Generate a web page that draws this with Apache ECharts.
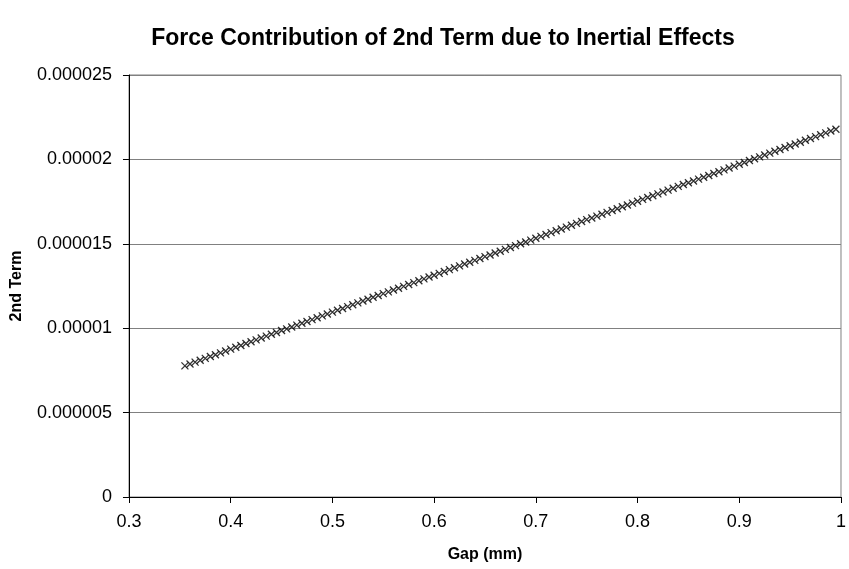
<!DOCTYPE html>
<html>
<head>
<meta charset="utf-8">
<script src="https://cdn.jsdelivr.net/npm/echarts@6/dist/echarts.min.js"></script>
<style>
  html, body { margin: 0; padding: 0; background: #fff; }
  #chart { width: 849px; height: 569px; }
</style>
</head>
<body>
<div id="chart"></div>
<script>
// Gap between surfaces (mm)
const gapMm = [
  0.355, 0.360, 0.365, 0.370, 0.375, 0.380, 0.385, 0.390, 0.395, 0.400,
  0.405, 0.410, 0.415, 0.420, 0.425, 0.430, 0.435, 0.440, 0.445, 0.450,
  0.455, 0.460, 0.465, 0.470, 0.475, 0.480, 0.485, 0.490, 0.495, 0.500,
  0.505, 0.510, 0.515, 0.520, 0.525, 0.530, 0.535, 0.540, 0.545, 0.550,
  0.555, 0.560, 0.565, 0.570, 0.575, 0.580, 0.585, 0.590, 0.595, 0.600,
  0.605, 0.610, 0.615, 0.620, 0.625, 0.630, 0.635, 0.640, 0.645, 0.650,
  0.655, 0.660, 0.665, 0.670, 0.675, 0.680, 0.685, 0.690, 0.695, 0.700,
  0.705, 0.710, 0.715, 0.720, 0.725, 0.730, 0.735, 0.740, 0.745, 0.750,
  0.755, 0.760, 0.765, 0.770, 0.775, 0.780, 0.785, 0.790, 0.795, 0.800,
  0.805, 0.810, 0.815, 0.820, 0.825, 0.830, 0.835, 0.840, 0.845, 0.850,
  0.855, 0.860, 0.865, 0.870, 0.875, 0.880, 0.885, 0.890, 0.895, 0.900,
  0.905, 0.910, 0.915, 0.920, 0.925, 0.930, 0.935, 0.940, 0.945, 0.950,
  0.955, 0.960, 0.965, 0.970, 0.975, 0.980, 0.985, 0.990, 0.995
];

// Inertial (2nd term) force contribution at each gap
const secondTerm = [
  7.77e-6, 7.88e-6, 7.99e-6, 8.10e-6, 8.21e-6, 8.32e-6, 8.43e-6, 8.54e-6, 8.65e-6, 8.76e-6,
  8.87e-6, 8.98e-6, 9.09e-6, 9.20e-6, 9.31e-6, 9.42e-6, 9.53e-6, 9.64e-6, 9.75e-6, 9.86e-6,
  9.96e-6, 10.07e-6, 10.18e-6, 10.29e-6, 10.40e-6, 10.51e-6, 10.62e-6, 10.73e-6, 10.84e-6, 10.95e-6,
  11.06e-6, 11.17e-6, 11.28e-6, 11.39e-6, 11.50e-6, 11.61e-6, 11.72e-6, 11.83e-6, 11.94e-6, 12.05e-6,
  12.15e-6, 12.26e-6, 12.37e-6, 12.48e-6, 12.59e-6, 12.70e-6, 12.81e-6, 12.92e-6, 13.03e-6, 13.14e-6,
  13.25e-6, 13.36e-6, 13.47e-6, 13.58e-6, 13.69e-6, 13.80e-6, 13.91e-6, 14.02e-6, 14.13e-6, 14.24e-6,
  14.34e-6, 14.45e-6, 14.56e-6, 14.67e-6, 14.78e-6, 14.89e-6, 15.00e-6, 15.11e-6, 15.22e-6, 15.33e-6,
  15.44e-6, 15.55e-6, 15.66e-6, 15.77e-6, 15.88e-6, 15.99e-6, 16.10e-6, 16.21e-6, 16.32e-6, 16.43e-6,
  16.53e-6, 16.64e-6, 16.75e-6, 16.86e-6, 16.97e-6, 17.08e-6, 17.19e-6, 17.30e-6, 17.41e-6, 17.52e-6,
  17.63e-6, 17.74e-6, 17.85e-6, 17.96e-6, 18.07e-6, 18.18e-6, 18.29e-6, 18.40e-6, 18.51e-6, 18.62e-6,
  18.72e-6, 18.83e-6, 18.94e-6, 19.05e-6, 19.16e-6, 19.27e-6, 19.38e-6, 19.49e-6, 19.60e-6, 19.71e-6,
  19.82e-6, 19.93e-6, 20.04e-6, 20.15e-6, 20.26e-6, 20.37e-6, 20.48e-6, 20.59e-6, 20.70e-6, 20.81e-6,
  20.91e-6, 21.02e-6, 21.13e-6, 21.24e-6, 21.35e-6, 21.46e-6, 21.57e-6, 21.68e-6, 21.79e-6
];

const xTickLabels = ['0.3', '0.4', '0.5', '0.6', '0.7', '0.8', '0.9', '1'];
const yTickLabels = ['0', '0.000005', '0.00001', '0.000015', '0.00002', '0.000025'];

const FONT = 'Liberation Sans, Arial, sans-serif';

const points = gapMm.map((g, i) => [g, secondTerm[i]]);

const chart = echarts.init(document.getElementById('chart'), null, { renderer: 'canvas' });

chart.setOption({
  backgroundColor: '#ffffff',
  animation: false,
  title: {
    text: 'Force Contribution of 2nd Term due to Inertial Effects',
    left: 438,
    top: 21,
    textAlign: 'center',
    textStyle: { fontFamily: FONT, fontSize: 23, fontWeight: 'bold', color: '#000', lineHeight: 25 }
  },
  grid: {
    left: 127, right: 4, top: 75, bottom: 69,
    show: true, borderColor: '#808080', borderWidth: 1, backgroundColor: 'transparent'
  },
  xAxis: {
    type: 'value',
    min: 0.3, max: 1.0, interval: 0.1,
    name: 'Gap (mm)',
    nameLocation: 'middle',
    nameGap: 58,
    nameTextStyle: { fontFamily: FONT, fontSize: 16, fontWeight: 'bold', color: '#000', lineHeight: 18, verticalAlign: 'middle' },
    axisLine: { show: true, lineStyle: { color: '#000', width: 1 } },
    axisTick: { show: true, inside: false, length: 6, lineStyle: { color: '#000' } },
    axisLabel: {
      fontFamily: FONT, fontSize: 18, color: '#000', margin: 16, lineHeight: 18,
      formatter: v => xTickLabels[Math.round((v - 0.3) * 10)]
    },
    splitLine: { show: false }
  },
  yAxis: {
    type: 'value',
    min: 0, max: 0.000025, interval: 0.000005,
    name: '2nd Term',
    nameLocation: 'middle',
    nameGap: 110,
    nameRotate: 90,
    nameTextStyle: { fontFamily: FONT, fontSize: 16, fontWeight: 'bold', color: '#000', lineHeight: 18, verticalAlign: 'middle' },
    axisLine: { show: true, lineStyle: { color: '#000', width: 1 } },
    axisTick: { show: true, inside: false, length: 6, lineStyle: { color: '#000' } },
    axisLabel: {
      fontFamily: FONT, fontSize: 18, color: '#000', margin: 17,
      formatter: v => yTickLabels[Math.round(v / 0.000005)]
    },
    splitLine: { show: true, lineStyle: { color: '#808080', width: 1 } }
  },
  series: [{
    type: 'scatter',
    data: points,
    symbol: 'path://M0,0L10,10M10,0L0,10',
    symbolSize: 7,
    itemStyle: { color: 'none', borderColor: '#000', borderWidth: 1.3 },
    silent: true
  }]
});
</script>
</body>
</html>
